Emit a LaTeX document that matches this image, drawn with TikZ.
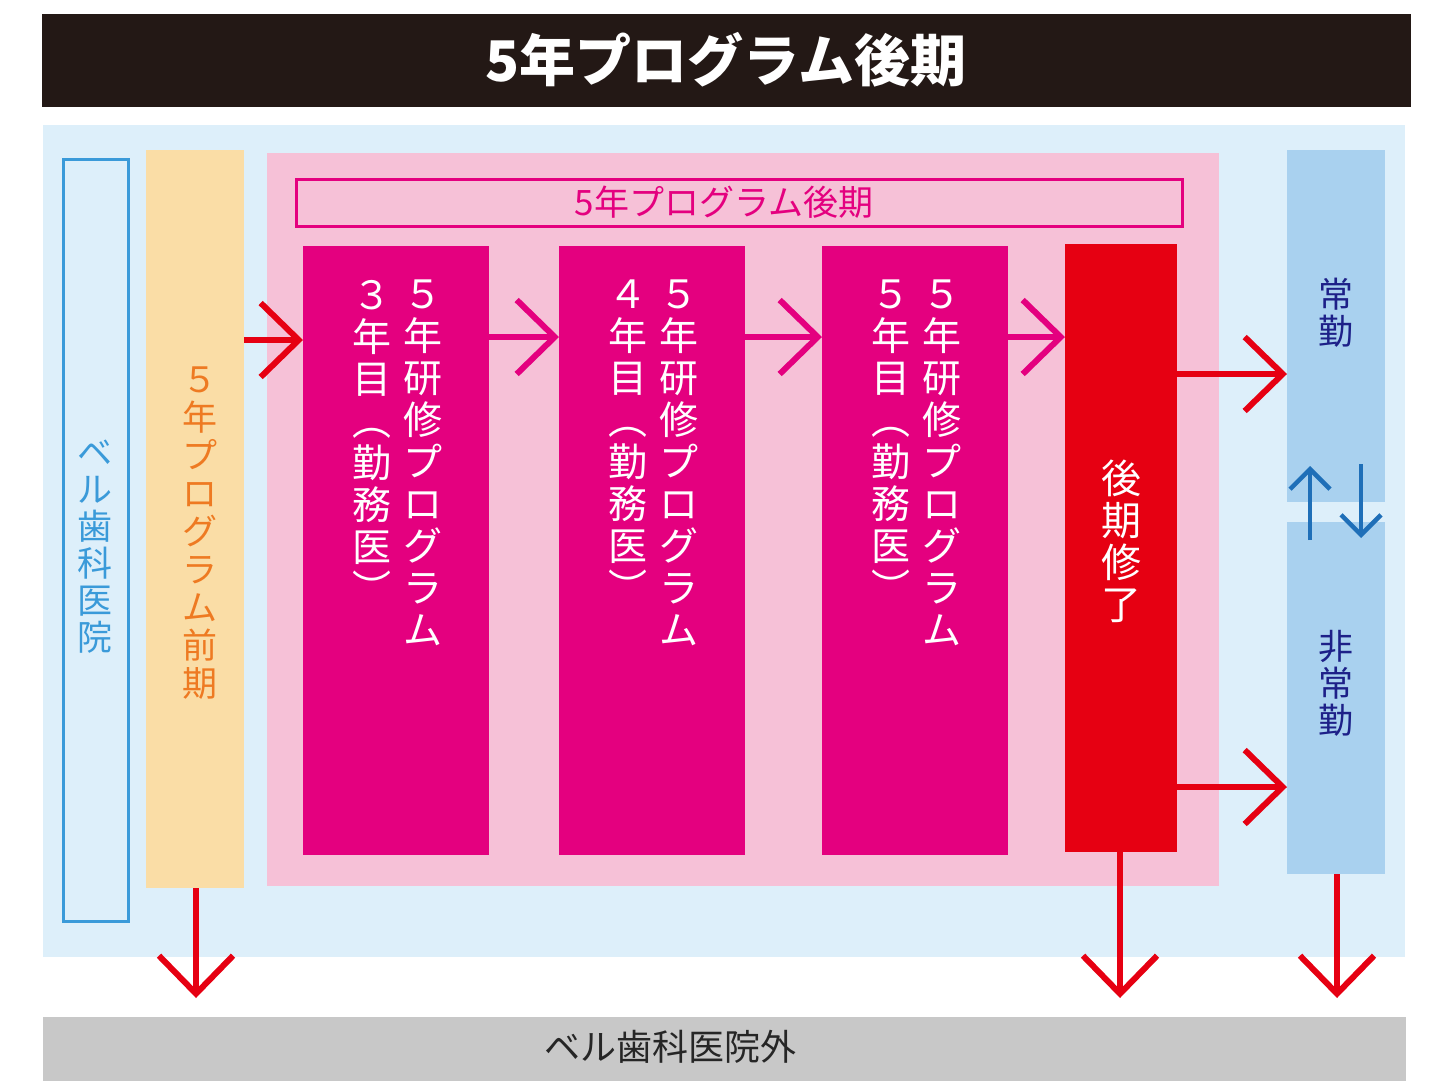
\documentclass[tikz,border=0pt]{standalone}
\usepackage{fontspec}
\setmainfont{Noto Sans CJK JP}
\usetikzlibrary{arrows.meta}
\definecolor{titlebk}{HTML}{231815}
\definecolor{lblue}{HTML}{DDEFFA}
\definecolor{obox}{HTML}{FADDA6}
\definecolor{otext}{HTML}{EE7A22}
\definecolor{pinkbg}{HTML}{F6C1D7}
\definecolor{mag}{HTML}{E4007F}
\definecolor{redb}{HTML}{E60012}
\definecolor{bbox}{HTML}{A9D1EF}
\definecolor{navy}{HTML}{1D2088}
\definecolor{bline}{HTML}{3A9AD9}
\definecolor{arrblue}{HTML}{1F6FB8}
\definecolor{grayb}{HTML}{C8C8C8}
\tikzset{
  vt/.style={anchor=north,align=center,inner sep=0pt},
  chev/.style={line width=6pt,-{Straight Barb[length=38pt,width=74pt]}},
  ud/.style={line width=4.5pt,arrblue,-{Straight Barb[length=20pt,width=40pt]}},
}
\begin{document}
\begin{tikzpicture}[x=1pt,y=-1pt]
\useasboundingbox[fill=white] (0,0) rectangle (1441,1090);
\fill[titlebk] (42,14) rectangle (1411,107);
\node[white,font=\fontsize{56}{60}\selectfont\bfseries] (title) at (726,60) {5年プログラム後期};
\fill[lblue] (43,125) rectangle (1405,957);
\draw[bline,line width=3pt,fill=lblue] (63,159) rectangle (128,921);
\node[vt,bline,font=\fontsize{35}{37}\selectfont] (bell) at (95,440) {ベ\\ル\\歯\\科\\医\\院};
\fill[obox] (146,150) rectangle (244,888);
\node[vt,otext,font=\fontsize{35}{38}\selectfont] (pre) at (200,367) {５\\年\\プ\\ロ\\グ\\ラ\\ム\\前\\期};
\fill[pinkbg] (267,153) rectangle (1219,886);
\draw[mag,line width=3pt] (296,179) rectangle (1182,226);
\node[mag,font=\fontsize{35}{38}\selectfont] (hdr) at (724,202) {5年プログラム後期};
\foreach \x/\n/\k in {303/３/a,559/４/b,822/５/c}{
  \fill[mag] (\x,246) rectangle (\x+186,855);
  \node[vt,white,font=\fontsize{39}{42}\selectfont] (r\k) at (\x+120,280) {５\\年\\研\\修\\プ\\ロ\\グ\\ラ\\ム};
  \node[vt,white,font=\fontsize{39}{42}\selectfont] (l\k) at (\x+69,280) {\n\\年\\目\\︵\\勤\\務\\医\\︶};
}
\coordinate (ba) at (303,340); \coordinate (ea) at (489,337);
\coordinate (bb) at (559,337); \coordinate (eb) at (745,337);
\coordinate (bc) at (822,337); \coordinate (ec) at (1008,337);
\fill[redb] (1065,244) rectangle (1177,852);
\node[vt,white,font=\fontsize{40}{42}\selectfont] (fin) at (1121,460) {後\\期\\修\\了};
\fill[bbox] (1287,150) rectangle (1385,502);
\fill[bbox] (1287,522) rectangle (1385,874);
\node[vt,navy,font=\fontsize{35}{37}\selectfont] (jo) at (1336,278) {常\\勤};
\node[vt,navy,font=\fontsize{35}{37}\selectfont] (hijo) at (1336,630) {非\\常\\勤};
\fill[grayb] (43,1017) rectangle (1406,1081);
\node[font=\fontsize{36}{40}\selectfont,black!85] (out) at (670,1047) {ベル歯科医院外};
% arrows
\coordinate (s1) at (244,340);
\draw[chev,redb] (s1) -- (ba);
\draw[chev,mag] (ea) -- (bb);
\draw[chev,mag] (eb) -- (bc);
\draw[chev,mag] (ec) -- (1065,337);
\draw[chev,redb] (1177,374) -- (1287,374);
\draw[chev,redb] (1177,787) -- (1287,787);
\draw[chev,redb] (196,888) -- (196,998);
\draw[chev,redb] (1120,852) -- (1120,998);
\draw[chev,redb] (1337,874) -- (1337,998);
\draw[ud] (1310,540) -- (1310,466);
\draw[ud] (1361,464) -- (1361,538);
\end{tikzpicture}
\end{document}
